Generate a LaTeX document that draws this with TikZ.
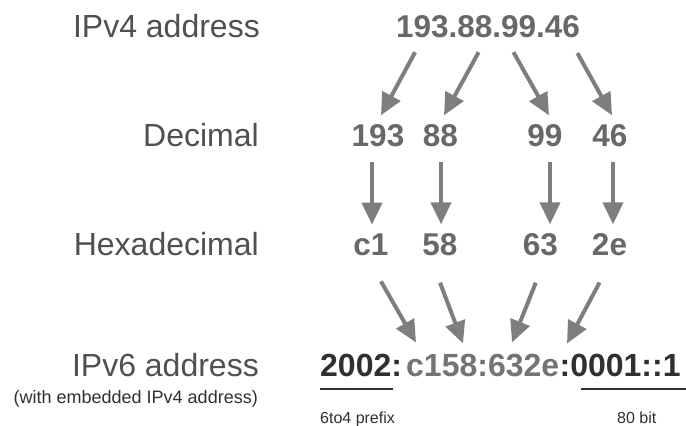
\documentclass[tikz,border=0pt]{standalone}
\usepackage{fontspec}
\setmainfont{Liberation Sans}
\usetikzlibrary{arrows.meta,calc}
\definecolor{labelgray}{HTML}{505050}
\definecolor{numgray}{HTML}{686868}
\definecolor{darkgray6}{HTML}{303030}
\definecolor{midgray6}{HTML}{747474}
\definecolor{arrowgray}{HTML}{7E7E7E}
\begin{document}
\begin{tikzpicture}[x=1pt,y=-1pt,
  rowlabel/.style={anchor=base east, inner sep=0pt, text=labelgray, font=\fontsize{32}{36}\selectfont},
  smalllabel/.style={anchor=base east, inner sep=0pt, text=darkgray6, font=\fontsize{18}{21}\selectfont},
  tinylabel/.style={anchor=base west, inner sep=0pt, text=darkgray6, font=\fontsize{16}{19}\selectfont},
  numnode/.style={anchor=base, inner xsep=0pt, inner ysep=8.5pt, text=numgray, font=\fontsize{31.5}{36}\selectfont\bfseries},
  vsixnode/.style={anchor=base west, inner sep=0pt, font=\fontsize{32}{37}\selectfont\bfseries},
  conn/.style={draw=arrowgray, line width=4pt, -{Triangle[width=20pt,length=22pt]}},
  uline/.style={draw=darkgray6, line width=2pt}]
\useasboundingbox[fill=white] (0,0) rectangle (686,426);
\clip (0,0) rectangle (686,426);

% left labels
\node[rowlabel] (lv4) at (260,37) {IPv4 address};
\node[rowlabel] (ldec) at (259,146) {Decimal};
\node[rowlabel] (lhex) at (259,255) {Hexadecimal};
\node[rowlabel] (lv6) at (259,376) {IPv6 address};
\node[smalllabel] (lemb) at (258,403) {(with embedded IPv4 address)};

% numbers
\node[numnode] (ip4) at (488,37) {193.88.99.46};
\node[numnode] (d1) at (378,146) {193};
\node[numnode] (d2) at (440.5,146) {88};
\node[numnode] (d3) at (545,146) {99};
\node[numnode] (d4) at (610,146) {46};
\node[numnode] (h1) at (371,255) {c1};
\node[numnode] (h2) at (440,255) {58};
\node[numnode] (h3) at (540.5,255) {63};
\node[numnode] (h4) at (609.5,255) {2e};

% IPv6 address
\node[vsixnode, text=darkgray6] (pre) at (320,376) {2002:};
\node[vsixnode, text=midgray6] (emb) at (406,376) {c158:632e};
\node[vsixnode, text=darkgray6] (suf) at (emb.base east) {:0001::1};

% underlines and notes
\draw[uline] ($(pre.base west)+(0,13)$) -- ($(pre.base west)+(73,13)$);
\draw[uline] ($(suf.base west)+(22,13)$) -- ($(suf.base west)+(140,13)$);
\node[tinylabel] (p6to4) at (320,423) {6to4 prefix};
\node[tinylabel] (b80) at (617,423) {80 bit};

% IPv4 -> decimal
\draw[conn, shorten <=7pt] ([xshift=-69.6pt]ip4.south) -- ([xshift=3pt]d1.north);
\draw[conn, shorten <=7pt] ([xshift=-6pt]ip4.south) -- ([xshift=3.5pt]d2.north);
\draw[conn, shorten <=7pt] ([xshift=22pt]ip4.south) -- ([xshift=4pt]d3.north);
\draw[conn, shorten <=8pt] ([xshift=85.5pt]ip4.south) -- ([xshift=2pt]d4.north);

% decimal -> hex
\draw[conn, shorten <=7pt] ([xshift=-6pt]d1.south) -- ([xshift=1pt]h1.north);
\draw[conn, shorten <=7pt] ([xshift=0.5pt]d2.south) -- ([xshift=1pt]h2.north);
\draw[conn, shorten <=7pt] ([xshift=5pt]d3.south) -- ([xshift=9.5pt]h3.north);
\draw[conn, shorten <=7pt] ([xshift=3pt]d4.south) -- ([xshift=3.5pt]h4.north);

% hex -> IPv6
\draw[conn, shorten <=20pt] (h1.south) -- ($(emb.north west)+(10,-11)$);
\draw[conn, shorten <=20pt] ([xshift=-7pt]h2.south) -- ($(emb.north west)+(57,-10)$);
\draw[conn, shorten <=20pt] ([xshift=2.7pt]h3.south) -- ($(emb.north west)+(106,-11)$);
\draw[conn, shorten <=21pt] (h4.south) -- ($(emb.north west)+(161,-10)$);
\end{tikzpicture}
\end{document}
